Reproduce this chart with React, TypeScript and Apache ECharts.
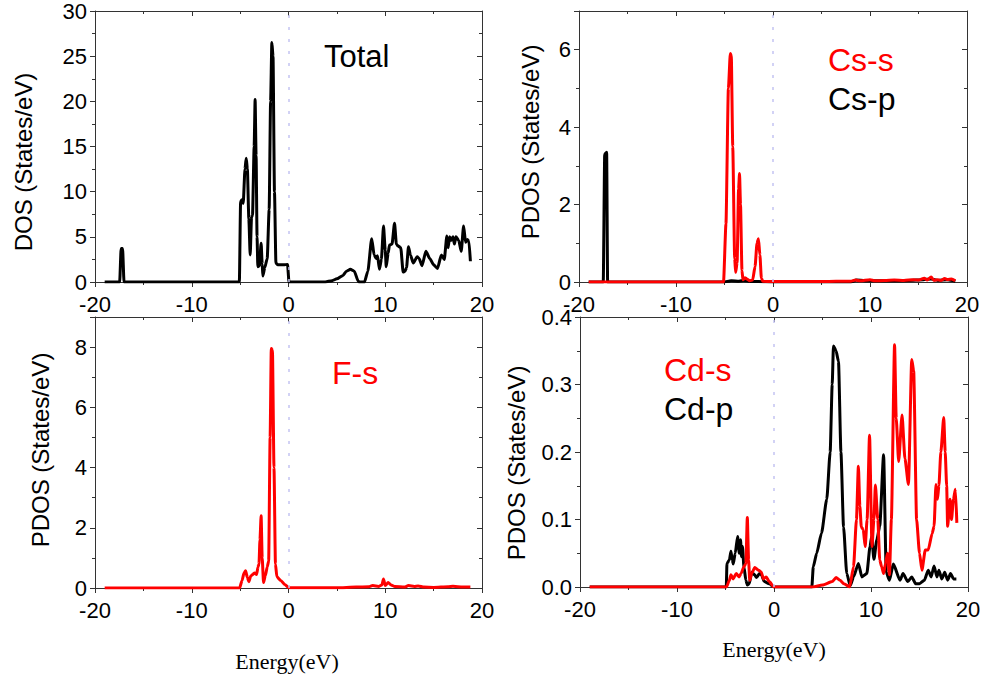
import React, { useEffect, useRef } from "react";
import * as echarts from "echarts";

// ---------- data (energy in eV, DOS in states/eV) ----------
const totalDos: [number, number][] = [
  [-19.0, 0], [-17.45, 0], [-17.3, 3.7], [-17.15, 3.7], [-17.0, 0], [-5.08, 0], [-4.95, 8.9], [-4.82, 9.1],
  [-4.68, 8.7], [-4.5, 12.5], [-4.37, 13.7], [-4.25, 12.5], [-4.1, 7], [-3.96, 3.0], [-3.82, 7.2], [-3.72, 7.4],
  [-3.55, 15], [-3.45, 20.2], [-3.35, 14], [-3.25, 5], [-3.17, 1.7], [-3.0, 1.8], [-2.83, 4.3], [-2.72, 2],
  [-2.65, 0.66], [-2.45, 1.6], [-2.2, 2.6], [-2.0, 8], [-1.85, 20], [-1.72, 26.5], [-1.6, 25], [-1.45, 10],
  [-1.3, 2.1], [-1.1, 1.9], [-0.5, 1.9], [-0.1, 1.95], [0.05, 0], [3.8, 0], [4.5, 0.15], [5.0, 0.35],
  [5.6, 0.7], [6.0, 1.2], [6.4, 1.4], [6.8, 1.2], [7.2, 0.1], [7.3, 0], [7.85, 0], [8.2, 1.2], [8.6, 4.8],
  [8.85, 3.0], [9.06, 2.6], [9.2, 2.9], [9.4, 1.4], [9.6, 2.5], [9.82, 6.2], [10.0, 3.5], [10.1, 1.7],
  [10.3, 3.2], [10.44, 4.1], [10.7, 4.2], [10.96, 6.5], [11.15, 4.2], [11.3, 4.0], [11.6, 3.8], [11.85, 1.1],
  [12.05, 1.2], [12.2, 1.6], [12.4, 3.9], [12.6, 3.0], [12.9, 2.1], [13.3, 2.8], [13.5, 2.6], [13.8, 1.8],
  [14.2, 3.4], [14.6, 2.6], [15.0, 1.9], [15.4, 1.5], [15.8, 3.0], [16.1, 2.5], [16.37, 5.1], [16.5, 3.8],
  [16.65, 5.0], [16.8, 4.6], [17.0, 5.0], [17.15, 4.2], [17.3, 5.0], [17.6, 4.6], [17.85, 3.4], [18.1, 6.2],
  [18.3, 4.4], [18.5, 4.7], [18.65, 4.5], [18.8, 2.3],
];

const csS: [number, number][] = [
  [-19, 0], [-5.1, 0], [-4.85, 1.5], [-4.6, 5.0], [-4.4, 5.9], [-4.3, 5.85], [-4.15, 3.5], [-3.95, 0.6],
  [-3.85, 0.25], [-3.7, 0.5], [-3.55, 2.4], [-3.45, 2.8], [-3.35, 2.0], [-3.2, 0.3], [-3.1, 0.06], [-2.9, 0.11],
  [-2.7, 0.08], [-2.4, 0.03], [-2.1, 0.05], [-1.85, 0.4], [-1.65, 1.0], [-1.5, 1.12], [-1.35, 0.7], [-1.2, 0.1],
  [-1.05, 0.02], [0, 0.01], [5, 0.01], [6.5, 0.02], [8, 0.02], [8.5, 0.05], [9, 0.03], [10, 0.06],
  [10.5, 0.03], [11.5, 0.04], [12.5, 0.05], [13.5, 0.04], [14.5, 0.06], [15.0, 0.05], [15.6, 0.1], [15.9, 0.05],
  [16.3, 0.13], [16.6, 0.04], [17.0, 0.06], [17.3, 0.04], [17.7, 0.09], [18.0, 0.06], [18.4, 0.08], [18.8, 0.03],
];

const csP: [number, number][] = [
  [-19, 0], [-17.5, 0], [-17.35, 3.3], [-17.15, 3.35], [-17.05, 0], [-5.1, 0], [-4.6, 0.02], [-4.3, 0.03],
  [-3.5, 0.02], [-3, 0.04], [-2.5, 0.02], [-1.5, 0.01], [0, 0], [8, 0], [8.6, 0.05], [10, 0.03], [12, 0.03],
  [14, 0.04], [15.5, 0.06], [16.3, 0.08], [17, 0.04], [18, 0.06], [18.8, 0.02],
];

const fS: [number, number][] = [
  [-19, 0], [-5.05, 0], [-4.8, 0.25], [-4.6, 0.5], [-4.44, 0.57], [-4.25, 0.35], [-4.1, 0.21], [-3.9, 0.4],
  [-3.7, 0.45], [-3.5, 0.5], [-3.3, 0.45], [-3.15, 0.7], [-3.05, 0.8], [-2.95, 1.6], [-2.83, 2.4], [-2.72, 1.0],
  [-2.58, 0.18], [-2.4, 0.4], [-2.2, 0.7], [-2.05, 0.9], [-1.9, 5], [-1.78, 7.95], [-1.66, 7.9], [-1.5, 4],
  [-1.35, 0.8], [-1.2, 0.37], [-0.8, 0.25], [-0.4, 0.12], [0.05, 0.01], [5, 0.01], [7, 0.03], [8.3, 0.04],
  [8.7, 0.08], [9.3, 0.05], [9.65, 0.1], [9.82, 0.3], [10.0, 0.08], [10.3, 0.18], [10.6, 0.1], [11, 0.05],
  [12, 0.03], [12.4, 0.08], [13, 0.05], [13.4, 0.07], [14, 0.03], [15, 0.02], [16.5, 0.04], [17, 0.06],
  [18, 0.03], [18.8, 0.03],
];

const cdP: [number, number][] = [
  [-19, 0], [-4.92, 0], [-4.85, 0.035], [-4.6, 0.04], [-4.44, 0.053], [-4.3, 0.04], [-4.2, 0.034], [-4.0, 0.05],
  [-3.75, 0.075], [-3.58, 0.05], [-3.45, 0.07], [-3.35, 0.045], [-3.25, 0.06], [-3.1, 0.03], [-2.9, 0.01],
  [-2.75, 0.003], [-2.55, 0.005], [-2.3, 0.022], [-2.0, 0.018], [-1.8, 0.014], [-1.5, 0.02], [-1.3, 0.018],
  [-1.0, 0.008], [-0.5, 0.005], [0, 0], [3.9, 0], [4.05, 0.03], [4.4, 0.05], [4.9, 0.08], [5.44, 0.13],
  [5.79, 0.2], [6.0, 0.3], [6.13, 0.357], [6.4, 0.35], [6.65, 0.334], [6.9, 0.2], [7.17, 0.089], [7.5, 0.02],
  [7.86, 0.002], [8.2, 0.015], [8.7, 0.035], [9.06, 0.015], [9.57, 0.02], [9.9, 0.06], [10.07, 0.075],
  [10.3, 0.041], [10.6, 0.07], [10.9, 0.09], [11.3, 0.196], [11.57, 0.022], [11.9, 0.01], [12.3, 0.034],
  [13.0, 0.01], [13.3, 0.02], [13.8, 0.008], [14.2, 0.015], [14.6, 0.005], [15.0, 0.005], [15.5, 0.01],
  [15.9, 0.025], [16.2, 0.015], [16.5, 0.031], [16.8, 0.015], [17.0, 0.025], [17.3, 0.012], [17.6, 0.022],
  [17.9, 0.01], [18.2, 0.02], [18.5, 0.012], [18.8, 0.012],
];

const cdS: [number, number][] = [
  [-19, 0], [-4.9, 0], [-4.6, 0.01], [-4.44, 0.018], [-4.2, 0.012], [-3.9, 0.02], [-3.6, 0.015], [-3.4, 0.02],
  [-3.1, 0.03], [-2.9, 0.035], [-2.75, 0.103], [-2.62, 0.04], [-2.5, 0.01], [-2.3, 0.02], [-1.98, 0.029],
  [-1.6, 0.025], [-1.3, 0.022], [-1.1, 0.012], [-0.8, 0.015], [-0.5, 0.008], [0, 0], [4, 0], [5, 0.003],
  [6, 0.008], [6.4, 0.014], [6.8, 0.01], [7.2, 0.005], [7.8, 0], [8.2, 0.03], [8.5, 0.1], [8.7, 0.179],
  [8.85, 0.12], [9.0, 0.089], [9.2, 0.085], [9.4, 0.06], [9.6, 0.1], [9.85, 0.225], [10.1, 0.06], [10.3, 0.1],
  [10.45, 0.151], [10.7, 0.1], [10.9, 0.04], [11.1, 0.03], [11.3, 0.02], [11.5, 0.035], [11.7, 0.05],
  [11.9, 0.018], [12.1, 0.1], [12.43, 0.359], [12.6, 0.25], [12.85, 0.186], [13.2, 0.255], [13.5, 0.19],
  [13.86, 0.152], [14.2, 0.337], [14.4, 0.32], [14.7, 0.1], [15.0, 0.05], [15.25, 0.025], [15.6, 0.055],
  [15.9, 0.055], [16.3, 0.079], [16.5, 0.09], [16.7, 0.152], [16.85, 0.13], [17.0, 0.15], [17.2, 0.2],
  [17.5, 0.251], [17.65, 0.2], [17.8, 0.15], [17.9, 0.09], [18.15, 0.13], [18.3, 0.1], [18.5, 0.13],
  [18.7, 0.145], [18.85, 0.095],
];

const xTicks = { min: -20, max: 20, interval: 10 };
const yRanges = [
  { max: 30, interval: 5 },
  { max: 7, interval: 2 },
  { max: 9, interval: 2 },
  { max: 0.4, interval: 0.1 },
];
const yTitles = ["DOS (States/eV)", "PDOS (States/eV)", "PDOS (States/eV)", "PDOS (States/eV)"];
const xTitle = "Energy(eV)";

const SANS = '"Liberation Sans", Arial, Helvetica, sans-serif';
const SERIF = '"Liberation Serif", "Times New Roman", serif';
const AXIS_COLOR = "#333";

export default function App() {
  const ref = useRef<HTMLDivElement>(null);

  useEffect(() => {
    if (!ref.current) return;
    const chart = echarts.init(ref.current, undefined, { renderer: "svg" });

    const grids = [
      { left: 95, top: 11, width: 387, height: 271 },
      { left: 579, top: 11, width: 388, height: 271 },
      { left: 95, top: 317, width: 387, height: 271 },
      { left: 580, top: 317, width: 388, height: 270 },
    ];

    const xAxes: any[] = [];
    const yAxes: any[] = [];
    grids.forEach((_, i) => {
      const base = {
        type: "value",
        gridIndex: i,
        min: xTicks.min,
        max: xTicks.max,
        interval: xTicks.interval,
        splitLine: { show: false },
        axisLine: { show: true, onZero: false, lineStyle: { color: AXIS_COLOR, width: 1 } },
        minorTick: { show: true, splitNumber: 2, length: 3, lineStyle: { color: AXIS_COLOR } },
      };
      xAxes.push({
        ...base,
        position: "bottom",
        axisTick: { show: true, length: 5, lineStyle: { color: AXIS_COLOR } },
        axisLabel: { show: true, fontSize: 22, lineHeight: 22, color: "#000", fontFamily: SANS, margin: 11 },
      });
      xAxes.push({
        ...base,
        position: "top",
        axisTick: { show: true, inside: true, length: 5, lineStyle: { color: AXIS_COLOR } },
        axisLabel: { show: false },
      });
      const yr = yRanges[i];
      const ybase = {
        type: "value",
        gridIndex: i,
        min: 0,
        max: yr.max,
        interval: yr.interval,
        splitLine: { show: false },
        axisLine: { show: true, onZero: false, lineStyle: { color: AXIS_COLOR, width: 1 } },
        minorTick: { show: true, splitNumber: 2, length: 3, lineStyle: { color: AXIS_COLOR } },
      };
      yAxes.push({
        ...ybase,
        position: "left",
        axisTick: { show: true, length: 5, lineStyle: { color: AXIS_COLOR } },
        axisLabel: {
          show: true,
          fontSize: 22,
          lineHeight: 20,
          color: "#000",
          fontFamily: SANS,
          margin: 8,
          showMaxLabel: i === 0 || i === 3,
          formatter: (v: number) => (i === 3 ? v.toFixed(1) : String(v)),
        },
      });
      yAxes.push({
        ...ybase,
        position: "right",
        axisTick: { show: true, inside: true, length: 5, lineStyle: { color: AXIS_COLOR } },
        axisLabel: { show: false },
      });
    });

    const zeroLine = {
      silent: true,
      symbol: "none",
      label: { show: false },
      lineStyle: { type: [3, 9], color: "#c4c4f2", width: 1.5 },
      data: [{ xAxis: 0 }],
    };

    const mk = (name: string, data: [number, number][], color: string, gi: number, withZero: boolean) => ({
      type: "line",
      name,
      data,
      xAxisIndex: gi * 2,
      yAxisIndex: gi * 2,
      showSymbol: false,
      symbol: "none",
      smooth: 0.2,
      smoothMonotone: "x",
      lineStyle: { color, width: 3 },
      itemStyle: { color },
      z: color === "#ff0000" ? 3 : 2,
      ...(withZero ? { markLine: zeroLine } : {}),
    });

    const series = [
      mk("Total", totalDos, "#000000", 0, true),
      mk("Cs-p", csP, "#000000", 1, true),
      mk("Cs-s", csS, "#ff0000", 1, false),
      mk("F-s", fS, "#ff0000", 2, true),
      mk("Cd-p", cdP, "#000000", 3, true),
      mk("Cd-s", cdS, "#ff0000", 3, false),
    ];

    const label = (text: string, x: number, y: number, color: string, size: number) => ({
      type: "text",
      x,
      y,
      style: {
        text,
        fill: color,
        fontSize: size,
        fontFamily: SANS,
        textAlign: "left",
        textVerticalAlign: "middle",
      },
    });
    const yTitle = (text: string, x: number, y: number) => ({
      type: "text",
      x,
      y,
      rotation: Math.PI / 2,
      style: {
        text,
        fill: "#000",
        fontSize: 24,
        fontFamily: SANS,
        textAlign: "center",
        textVerticalAlign: "middle",
      },
    });
    const xTitleEl = (x: number, y: number) => ({
      type: "text",
      x,
      y,
      style: {
        text: xTitle,
        fill: "#000",
        fontSize: 22,
        fontFamily: SERIF,
        textAlign: "center",
        textVerticalAlign: "middle",
      },
    });

    const graphic = [
      label("Total", 324, 56, "#000", 31),
      label("Cs-s", 828, 60, "#ff0000", 32),
      label("Cs-p", 828, 99, "#000", 32),
      label("F-s", 332, 373, "#ff0000", 32),
      label("Cd-s", 664, 370, "#ff0000", 32),
      label("Cd-p", 664, 409, "#000", 32),
      yTitle(yTitles[0], 23, 162),
      yTitle(yTitles[1], 530, 142),
      yTitle(yTitles[2], 40, 450),
      yTitle(yTitles[3], 516, 463),
      xTitleEl(287, 661),
      xTitleEl(774, 649),
    ];

    chart.setOption({
      animation: false,
      backgroundColor: "#ffffff",
      grid: grids,
      xAxis: xAxes,
      yAxis: yAxes,
      series,
      graphic,
    });

    return () => chart.dispose();
  }, []);

  return (
    <div
      ref={ref}
      style={{ position: "fixed", left: 0, top: 0, width: 984, height: 678, background: "#fff" }}
    />
  );
}
